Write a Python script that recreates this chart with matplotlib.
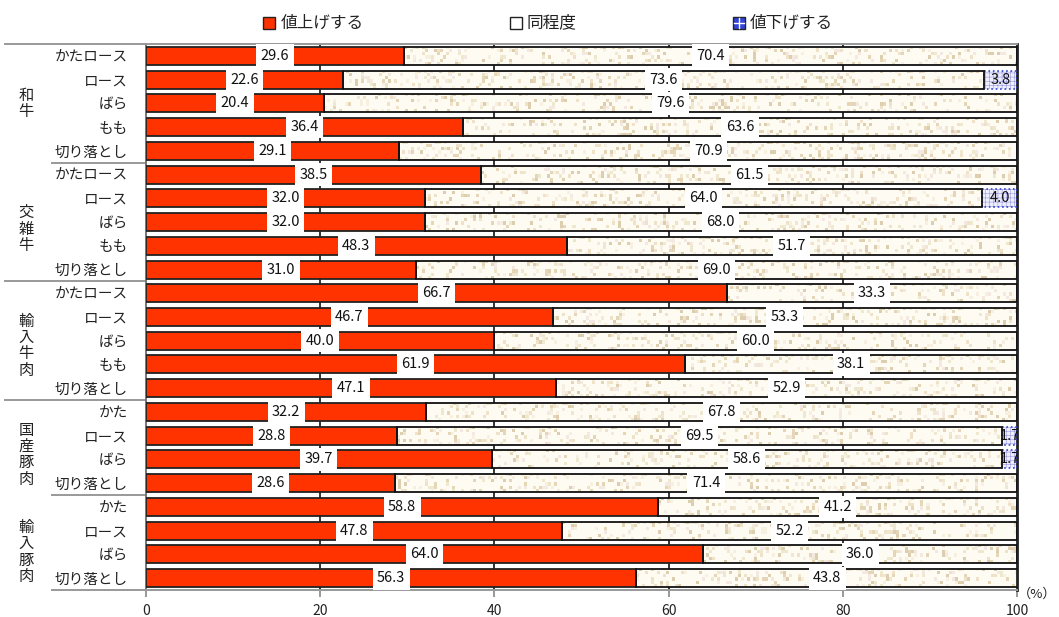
import numpy as np
import matplotlib
matplotlib.use("Agg")
import matplotlib.pyplot as plt
import matplotlib.transforms as mtransforms
from matplotlib.patches import Rectangle
from matplotlib.lines import Line2D

plt.rcParams['font.family'] = ['Noto Sans CJK JP', 'DejaVu Sans']

# price-direction survey by cut (%)
groups = ['和牛', '交雑牛', '輸入牛肉', '国産豚肉', '輸入豚肉']
cuts = [
    ['かたロース', 'ロース', 'ばら', 'もも', '切り落とし'],
    ['かたロース', 'ロース', 'ばら', 'もも', '切り落とし'],
    ['かたロース', 'ロース', 'ばら', 'もも', '切り落とし'],
    ['かた', 'ロース', 'ばら', '切り落とし'],
    ['かた', 'ロース', 'ばら', '切り落とし'],
]
up = [29.6, 22.6, 20.4, 36.4, 29.1,
      38.5, 32.0, 32.0, 48.3, 31.0,
      66.7, 46.7, 40.0, 61.9, 47.1,
      32.2, 28.8, 39.7, 28.6,
      58.8, 47.8, 64.0, 56.3]
same = [70.4, 73.6, 79.6, 63.6, 70.9,
        61.5, 64.0, 68.0, 51.7, 69.0,
        33.3, 53.3, 60.0, 38.1, 52.9,
        67.8, 69.5, 58.6, 71.4,
        41.2, 52.2, 36.0, 43.8]
down = [0, 3.8, 0, 0, 0,
        0, 4.0, 0, 0, 0,
        0, 0, 0, 0, 0,
        0, 1.7, 1.7, 0,
        0, 0, 0, 0]
legend_labels = ['値上げする', '同程度', '値下げする']
xticks = [0, 20, 40, 60, 80, 100]

RED = '#FF3300'
W, H = 1059, 617
fig = plt.figure(figsize=(W / 100, H / 100), dpi=100)
ax = fig.add_axes([146 / W, 1 - 590 / H, (1017 - 146) / W, 546 / H])

labels = [c for g in cuts for c in g]
n = len(labels)
y = np.arange(n)
bh = 0.76

# vertical grid behind the bars
for gx in [20, 40, 60, 80]:
    ax.axvline(gx, color='#333333', lw=1.4, zorder=0)

ax.barh(y, up, height=bh, color=RED, edgecolor='#222222', lw=1.3, zorder=3)

# speckled fill for the middle segment
rng = np.random.default_rng(11)
speck = np.array([[0.90, 0.84, 0.72], [0.94, 0.89, 0.79], [0.96, 0.91, 0.89],
                  [0.93, 0.91, 0.81], [0.97, 0.94, 0.88], [0.87, 0.81, 0.69]])
base = np.array([0.998, 0.985, 0.955])
px_per_unit = (1017 - 146) / 100
for i in range(n):
    left, w = up[i], same[i]
    ncol = max(1, int(w * px_per_unit / 3))
    nrow = 6
    img = np.tile(base, (nrow, ncol, 1))
    mask = rng.random((nrow, ncol)) < 0.22
    idx = rng.integers(0, len(speck), (nrow, ncol))
    img[mask] = speck[idx[mask]]
    im = ax.imshow(img, extent=(left, left + w, y[i] + bh / 2, y[i] - bh / 2),
                   aspect='auto', interpolation='nearest', zorder=2)
    rect = Rectangle((left, y[i] - bh / 2), w, bh, transform=ax.transData)
    im.set_clip_path(rect)
ax.barh(y, same, left=up, height=bh, facecolor='none', edgecolor='#111111',
        lw=1.3, zorder=3)

# decrease segment: lavender with fine blue grid and dotted border
plt.rcParams['hatch.linewidth'] = 0.4
d_left = [u + s for u, s in zip(up, same)]
ax.barh(y, down, left=d_left, height=bh, facecolor='#EEEEFF',
        edgecolor='#9999DD', hatch='++++', lw=0, zorder=2.5)
ax.barh(y, down, left=d_left, height=bh, facecolor='none',
        edgecolor='#3344CC', ls=':', lw=1.2, zorder=2.6)
ax.set_xlim(0, 100)
ax.set_ylim(n - 0.5, -0.5)

# value labels
for i in range(n):
    ax.text(up[i] / 2, y[i], f'{up[i]:.1f}', ha='center', va='center',
            fontsize=10.5, color='#111111', zorder=5, clip_on=True,
            bbox=dict(boxstyle='square,pad=0.3', fc='white', ec='none'))
    ax.text(up[i] + same[i] / 2, y[i], f'{same[i]:.1f}', ha='center', va='center',
            fontsize=10.5, color='#111111', zorder=5, clip_on=True,
            bbox=dict(boxstyle='square,pad=0.3', fc='white', ec='none'))
    if down[i] > 0:
        ax.text(d_left[i] + down[i] / 2, y[i], f'{down[i]:.1f}', ha='center',
                va='center', fontsize=10.5, color='#111111', zorder=5, clip_on=True)

# axes styling
ax.set_yticks(y)
ax.set_yticklabels(labels, fontsize=10.5, color='#222222')
ax.tick_params(axis='y', length=0, pad=13)
ax.set_xticks(xticks)
ax.set_xticklabels([str(t) for t in xticks], fontsize=10, color='#222222')
ax.tick_params(axis='x', length=5, width=1.2, color='#888888', pad=5)
ax.spines['top'].set_color('#999999')
ax.spines['bottom'].set_color('#999999')
ax.spines['left'].set_color('#777777')
ax.spines['right'].set_color('#222222')
for s in ax.spines.values():
    s.set_linewidth(1.4)
ax.spines['right'].set_linewidth(2)

# group separators and group names on the left
blend = mtransforms.blended_transform_factory(fig.transFigure, ax.transData)
bounds = [0, 5, 10, 15, 19, 23]
starts = [5, 52, 5, 5, 52, 52]
for k, x0 in zip(bounds, starts):
    ax.add_line(Line2D([x0 / W, 146 / W], [k - 0.5, k - 0.5], transform=blend,
                       color='#999999', lw=1.4, clip_on=False))
label_pos = [2.0, 7.3, 12.2, 16.8, 20.9]
for g, gy in zip(groups, label_pos):
    ax.text(26 / W, gy, '\n'.join(g), transform=blend, ha='center', va='center',
            fontsize=11, color='#222222', linespacing=0.95)

fig.text(1056 / W, 1 - 594 / H, '（%）', ha='right', va='center',
         fontsize=9.5, color='#222222')

# legend drawn by hand across the top
ly = 1 - 23 / H
sq = 12
fig.add_artist(Rectangle((263 / W, ly - sq / 2 / H), sq / W, sq / H, transform=fig.transFigure,
                         fc=RED, ec='#222222', lw=1))
fig.add_artist(Rectangle((510 / W, ly - sq / 2 / H), sq / W, sq / H, transform=fig.transFigure,
                         fc='white', ec='#222222', lw=1))
fig.add_artist(Rectangle((733 / W, ly - sq / 2 / H), sq / W, sq / H, transform=fig.transFigure,
                         fc='#3344DD', ec='#222222', lw=1))
fig.add_artist(Line2D([739 / W, 739 / W], [ly - 5 / H, ly + 5 / H], transform=fig.transFigure,
                      color='white', lw=1))
fig.add_artist(Line2D([734 / W, 744 / W], [ly, ly], transform=fig.transFigure,
                      color='white', lw=1))
for x0, txt in zip([281, 527, 750], legend_labels):
    fig.text(x0 / W, ly, txt, ha='left', va='center', fontsize=12, color='#222222')

fig.savefig('out.png', dpi=100)
